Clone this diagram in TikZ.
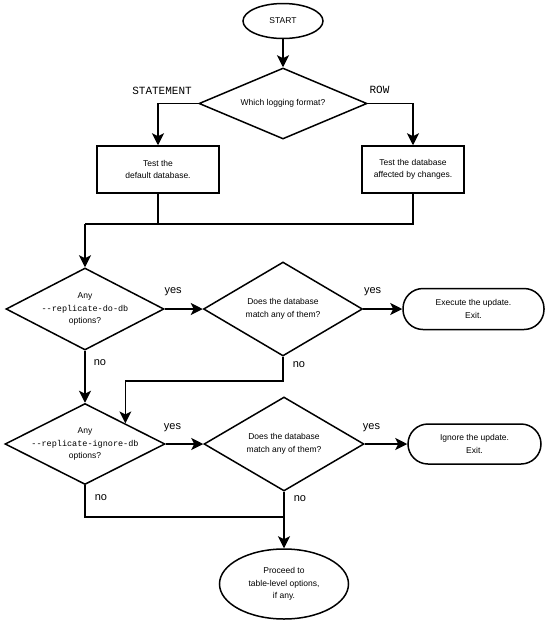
\documentclass[tikz,border=0pt]{standalone}
\usepackage{fontspec}
\setmainfont{Liberation Sans}
\newfontfamily\codefont{Liberation Mono}
\usetikzlibrary{arrows.meta,shapes.geometric}

\begin{document}
\begin{tikzpicture}[x=1pt, y=-1pt, line width=1.6pt,
		txt/.style={font=\fontsize{8.5}{12.5}\selectfont, align=center},
		shp/.style={draw, line width=1.5pt, inner sep=0pt, txt},
		terminal/.style={shp, ellipse},
		process/.style={shp, rectangle},
		decision/.style={shp, diamond},
		exitbox/.style={shp, rectangle, rounded corners=20pt},
		arr/.style={-{Stealth[length=12pt, width=12pt, inset=3pt]}},
		branch/.style={font=\codefont\fontsize{11}{13}\selectfont, inner sep=0pt},
		answer/.style={font=\fontsize{11}{13}\selectfont, inner sep=0pt},
		every label/.style={txt}]
		%%%%% START %%%%%
		
		\useasboundingbox (0,0) rectangle (550,625);
		
		\node[terminal, minimum width=80pt, minimum height=35pt] (start) at (283,21) {START};
		\node[decision, minimum width=168pt, minimum height=71pt, label=center:{Which logging format?}] (fmt) at (283,103.5) {};
		
		\node[process, minimum width=122pt, minimum height=47pt] (stmt) at (158,169.5) {Test the\\default database.};
		\node[process, minimum width=102pt, minimum height=47pt] (row) at (413,169.5) {Test the database\\affected by changes.};
		\coordinate (join1) at (85,224);
		
		\node[decision, minimum width=158pt, minimum height=82pt, label=center:{Any\\{\codefont --replicate-do-db}\\options?}] (doDb) at (85,309) {};
		\node[decision, minimum width=159pt, minimum height=94pt, label=center:{Does the database\\match any of them?}] (doMatch) at (283,309) {};
		\node[exitbox, minimum width=141pt, minimum height=41pt] (execute) at (473.5,309) {Execute the update.\\Exit.};
		
		\node[decision, minimum width=160pt, minimum height=81pt, label=center:{Any\\{\codefont --replicate-ignore-db}\\options?}] (ignDb) at (85,444) {};
		\node[decision, minimum width=160pt, minimum height=94pt, label=center:{Does the database\\match any of them?}] (ignMatch) at (284,444) {};
		\node[exitbox, minimum width=133pt, minimum height=40pt] (ignore) at (474.5,444) {Ignore the update.\\Exit.};
		
		\coordinate (join2) at (284,517);
		\node[terminal, minimum width=129pt, minimum height=70pt] (finish) at (284,584) {Proceed to\\table-level options,\\if any.};
		
		\draw[arr] (start) -- (fmt);
		\draw[arr] (fmt.west) -| node[branch, pos=0.45, yshift=13pt] {STATEMENT} (stmt.north);
		\draw[arr] (fmt.east) -| node[branch, pos=0.13, yshift=14pt] {ROW} (row.north);
		\draw (stmt.south) |- (join1);
		\draw (row.south) |- (join1);
		\draw[arr] (join1) -- (doDb.north);
		
		\draw[arr] (doDb.east) -- node[answer, pos=0.22, yshift=17pt] {yes} (doMatch.west);
		\draw[arr] (doMatch.east) -- node[answer, pos=0.24, yshift=17pt] {yes} (execute.west);
		\draw[arr] (doDb.south) -- node[answer, pos=0.22, right=8pt] {no} (ignDb.north);
		\draw[arr] (doMatch.south) -- node[answer, pos=0.33, right=9pt] {no} ++(0,24) -| (ignDb.north east);
		
		\draw[arr] (ignDb.east) -- node[answer, pos=0.18, yshift=16pt] {yes} (ignMatch.west);
		\draw[arr] (ignMatch.east) -- node[answer, pos=0.16, yshift=16pt] {yes} (ignore.west);
		\draw (ignDb.south) |- node[answer, pos=0.19, right=9pt] {no} (join2);
		\draw (ignMatch.south) -- node[answer, pos=0.27, right=9pt] {no} (join2);
		\draw[arr] (join2) -- (finish.north);
		
		%%%%% END %%%%%
	\end{tikzpicture}
\end{document}
